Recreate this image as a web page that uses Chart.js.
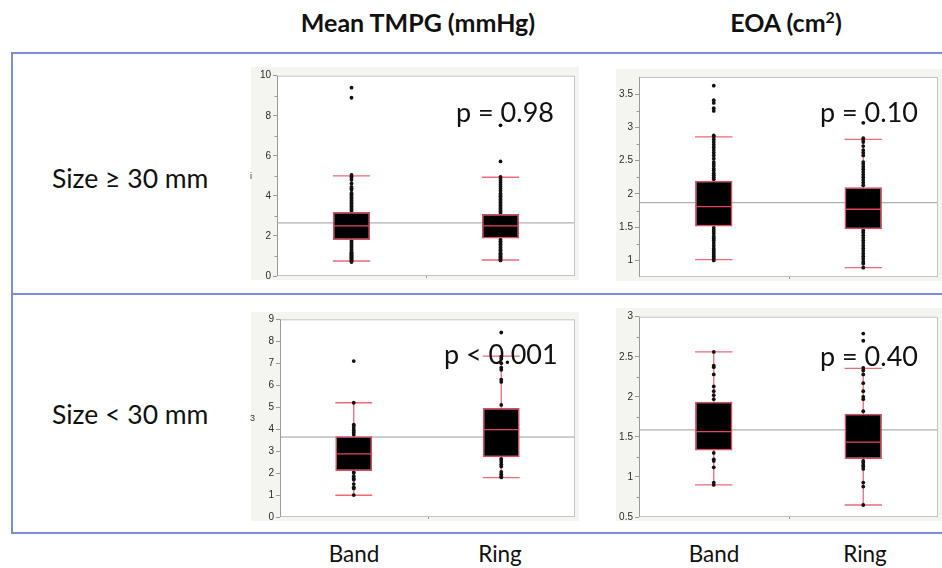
<!DOCTYPE html>
<html><head><meta charset="utf-8">
<script src="https://cdn.jsdelivr.net/npm/chart.js@4.4.1/dist/chart.umd.min.js"></script>
<style>
html,body{margin:0;padding:0;}
body{width:942px;height:568px;background:#fff;position:relative;overflow:hidden;font-family:Lato,"Noto Sans",sans-serif;color:#111;}
.abs{position:absolute;white-space:nowrap;}
.title{font-weight:bold;font-size:25px;text-align:center;width:300px;line-height:1;}
.row{font-size:26.5px;line-height:1;}
.cat{font-size:22.5px;text-align:center;width:100px;line-height:1;}
.pv{font-size:27px;line-height:1;z-index:5;}
.panel{position:absolute;background:#f4f4f0;overflow:hidden;}
.panel canvas{display:block;}
.stray{font-family:"Liberation Sans",Arial,sans-serif;font-size:9px;color:#333;z-index:5;}
</style></head>
<body>
<div class="abs" style="left:11px;top:52px;width:945px;height:478px;border:2px solid #7d8dd5;border-right:none;"></div>
<div class="abs" style="left:11px;top:293px;width:945px;height:2px;background:#7d8dd5;"></div>

<div class="abs title" style="left:268px;top:10px;">Mean TMPG (mmHg)</div>
<div class="abs title" style="left:636px;top:10px;">EOA (cm<sup style="font-size:16px;line-height:0;">2</sup>)</div>

<div class="abs row" style="left:52px;top:165px;">Size ≥ 30 mm</div>
<div class="abs row" style="left:52px;top:401px;">Size &lt; 30 mm</div>

<div class="abs cat" style="left:304px;top:543px;">Band</div>
<div class="abs cat" style="left:450px;top:543px;">Ring</div>
<div class="abs cat" style="left:664px;top:543px;">Band</div>
<div class="abs cat" style="left:815px;top:543px;">Ring</div>

<div class="panel" style="left:251px;top:67px;width:328px;height:213px;"><canvas id="c1" width="328" height="213"></canvas></div>
<div class="panel" style="left:616px;top:69px;width:326px;height:212px;"><canvas id="c2" width="326" height="212"></canvas></div>
<div class="panel" style="left:251px;top:312px;width:328px;height:209px;"><canvas id="c3" width="328" height="209"></canvas></div>
<div class="panel" style="left:616px;top:308px;width:326px;height:213px;"><canvas id="c4" width="326" height="213"></canvas></div>

<div class="abs stray" style="left:250px;top:171px;">i</div>
<div class="abs stray" style="left:250px;top:413px;">3</div>

<div class="abs pv" style="left:456px;top:98px;">p = 0.98</div>
<div class="abs pv" style="left:820px;top:98px;">p = 0.10</div>
<div class="abs pv" style="left:444px;top:340px;">p &lt; 0.001</div>
<div class="abs pv" style="left:820px;top:342px;">p = 0.40</div>

<script>
// ---------- DATA ----------
const categories = ['Band', 'Ring'];

// Mean TMPG, size >= 30 mm
const tmpgLargeLow = [0.75, 0.8];
const tmpgLargeQ1 = [1.8, 1.87];
const tmpgLargeMedian = [2.5, 2.5];
const tmpgLargeQ3 = [3.2, 3.1];
const tmpgLargeHigh = [5.0, 4.93];
const tmpgLargeMean = 2.65;
const tmpgLargeBandPoints = [0.7, 0.74, 0.78, 0.83, 0.88, 0.93, 0.98, 1.03, 1.08, 1.13, 1.18, 1.25, 1.32, 1.4, 1.47, 1.55, 1.62, 1.7, 1.76,
  3.25, 3.32, 3.4, 3.47, 3.55, 3.62, 3.7, 3.77, 3.85, 3.92, 4.0, 4.08, 4.15, 4.3, 4.38, 4.45, 4.62, 4.8, 4.9, 4.97, 5.05, 8.9, 9.4];
const tmpgLargeRingPoints = [0.78, 0.82, 0.87, 0.92, 0.97, 1.02, 1.08, 1.14, 1.2, 1.28, 1.35, 1.42, 1.5, 1.58, 1.66, 1.74, 1.82,
  3.15, 3.22, 3.3, 3.37, 3.45, 3.52, 3.6, 3.67, 3.75, 3.82, 3.9, 3.98, 4.05, 4.12, 4.25, 4.35, 4.45, 4.55, 4.65, 4.75, 4.85, 4.95, 5.72, 7.52];
const tmpgLargeTicks = [0, 2, 4, 6, 8, 10];
const tmpgLargeMinor = [1, 3, 5, 7, 9];

// EOA, size >= 30 mm
const eoaLargeLow = [1.01, 0.89];
const eoaLargeQ1 = [1.51, 1.47];
const eoaLargeMedian = [1.81, 1.77];
const eoaLargeQ3 = [2.2, 2.1];
const eoaLargeHigh = [2.86, 2.82];
const eoaLargeMean = 1.868;
const eoaLargeBandPoints = [1.0, 1.03, 1.06, 1.09, 1.12, 1.15, 1.18, 1.22, 1.26, 1.3, 1.33, 1.36, 1.4, 1.43, 1.46, 1.49,
  2.22, 2.25, 2.28, 2.31, 2.35, 2.38, 2.42, 2.45, 2.48, 2.53, 2.58, 2.62, 2.66, 2.7, 2.74, 2.78, 2.82, 2.86, 2.88,
  3.25, 3.29, 3.37, 3.41, 3.63];
const eoaLargeRingPoints = [0.89, 0.95, 0.98, 1.02, 1.06, 1.1, 1.14, 1.18, 1.22, 1.26, 1.3, 1.34, 1.38, 1.42, 1.45,
  2.13, 2.17, 2.21, 2.25, 2.29, 2.33, 2.37, 2.41, 2.45, 2.48, 2.58, 2.62, 2.66, 2.72, 2.78, 2.81, 2.84, 3.07];
const eoaLargeTicks = [1, 1.5, 2, 2.5, 3, 3.5];
const eoaLargeMinor = [1.25, 1.75, 2.25, 2.75, 3.25];

// Mean TMPG, size < 30 mm
const tmpgSmallLow = [0.99, 1.79];
const tmpgSmallQ1 = [2.09, 2.72];
const tmpgSmallMedian = [2.87, 3.98];
const tmpgSmallQ3 = [3.68, 4.96];
const tmpgSmallHigh = [5.2, 7.32];
const tmpgSmallMean = 3.64;
const tmpgSmallBandPoints = [1.0, 1.3, 1.35, 1.5, 1.7, 1.75, 1.85, 2.0, 2.05, 3.75, 3.85, 3.95, 4.05, 4.15, 4.2, 5.2, 7.1];
const tmpgSmallRingPoints = [1.8, 1.85, 1.95, 2.05, 2.3, 2.4, 2.5, 2.6, 2.65, 5.1, 6.15, 6.25, 6.7, 6.8, 7.0, 7.2, 7.3, 8.4];
const tmpgSmallTicks = [0, 1, 2, 3, 4, 5, 6, 7, 8, 9];
const tmpgSmallMinor = [];

// EOA, size < 30 mm
const eoaSmallLow = [0.9, 0.65];
const eoaSmallQ1 = [1.33, 1.223];
const eoaSmallMedian = [1.566, 1.434];
const eoaSmallQ3 = [1.94, 1.79];
const eoaSmallHigh = [2.56, 2.355];
const eoaSmallMean = 1.587;
const eoaSmallBandPoints = [0.9, 0.93, 1.12, 1.2, 1.22, 1.3, 1.97, 2.02, 2.07, 2.13, 2.28, 2.37, 2.39, 2.56];
const eoaSmallRingPoints = [0.65, 0.88, 0.93, 1.1, 1.13, 1.15, 1.18, 1.2, 1.82, 1.97, 2.0, 2.07, 2.17, 2.28, 2.33, 2.36, 2.7, 2.79];
const eoaSmallTicks = [0.5, 1, 1.5, 2, 2.5, 3];
const eoaSmallMinor = [0.75, 1.25, 1.75, 2.25, 2.75];

// ---------- DRAWING ----------
const BOX_RED = '#e4475b';
const WHISK_RED = '#ee6a78';

const boxPlugin = {
  id: 'boxplot',
  beforeDraw(chart) {
    const { ctx, chartArea: a } = chart;
    ctx.save();
    ctx.fillStyle = '#ffffff';
    ctx.fillRect(a.left, a.top, a.right - a.left, a.bottom - a.top);
    ctx.restore();
  },
  beforeDatasetsDraw(chart, args, o) {
    const { ctx, chartArea: a } = chart;
    const xs = chart.scales.x, ys = chart.scales.y;
    const meta = chart.getDatasetMeta(0);
    ctx.save();
    const ym = ys.getPixelForValue(o.mean);
    ctx.strokeStyle = '#9c9c9c';
    ctx.lineWidth = 1;
    ctx.beginPath(); ctx.moveTo(a.left, ym); ctx.lineTo(a.right, ym); ctx.stroke();
    ctx.strokeStyle = WHISK_RED;
    ctx.lineWidth = 1.3;
    categories.forEach((c, i) => {
      const cx = xs.getPixelForValue(i);
      const half = meta.data[i].width / 2;
      const yl = ys.getPixelForValue(o.low[i]);
      const yh = ys.getPixelForValue(o.high[i]);
      ctx.beginPath();
      ctx.moveTo(cx, yl); ctx.lineTo(cx, yh);
      ctx.moveTo(cx - half, yl); ctx.lineTo(cx + half, yl);
      ctx.moveTo(cx - half, yh); ctx.lineTo(cx + half, yh);
      ctx.stroke();
    });
    ctx.restore();
  },
  afterDatasetsDraw(chart, args, o) {
    const { ctx, chartArea: a } = chart;
    const xs = chart.scales.x, ys = chart.scales.y;
    const meta = chart.getDatasetMeta(0);
    ctx.save();
    ctx.strokeStyle = BOX_RED;
    ctx.lineWidth = 1.3;
    categories.forEach((c, i) => {
      const cx = xs.getPixelForValue(i);
      const half = meta.data[i].width / 2;
      const y = ys.getPixelForValue(o.median[i]);
      ctx.beginPath(); ctx.moveTo(cx - half + 1, y); ctx.lineTo(cx + half - 1, y); ctx.stroke();
    });
    ctx.strokeStyle = '#c4c4c4';
    ctx.lineWidth = 1;
    ctx.strokeRect(a.left + 0.5, a.top + 0.5, a.right - a.left - 1, a.bottom - a.top - 1);
    ctx.strokeStyle = '#9a9a9a';
    ctx.beginPath(); ctx.moveTo(a.left + 0.5, a.top); ctx.lineTo(a.left + 0.5, a.bottom); ctx.stroke();
    o.minor.forEach(v => {
      const y = Math.round(ys.getPixelForValue(v)) + 0.5;
      ctx.beginPath(); ctx.moveTo(a.left - 2.5, y); ctx.lineTo(a.left, y); ctx.stroke();
    });
    const mid = (a.left + a.right) / 2;
    ctx.beginPath(); ctx.moveTo(Math.round(mid) + 0.5, a.bottom); ctx.lineTo(Math.round(mid) + 0.5, a.bottom + 2); ctx.stroke();
    ctx.restore();
  }
};

function makePanel(id, d) {
  const boxData = categories.map((c, i) => [d.q1[i], d.q3[i]]);
  const pts = [];
  d.band.forEach(v => pts.push({ x: 'Band', y: v }));
  d.ring.forEach(v => pts.push({ x: 'Ring', y: v }));
  new Chart(document.getElementById(id), {
    data: {
      labels: categories,
      datasets: [
        {
          type: 'bar', data: boxData, backgroundColor: '#000000', borderColor: BOX_RED,
          borderWidth: 1.5, borderSkipped: false, barPercentage: 0.25, categoryPercentage: 1, order: 0
        },
        {
          type: 'scatter', data: pts, pointRadius: 1.9, pointBackgroundColor: '#151010',
          pointBorderWidth: 0, pointBorderColor: '#151010', order: 1
        }
      ]
    },
    options: {
      responsive: false, animation: false, events: [],
      layout: { padding: { top: d.padTop, right: d.padRight, left: 0, bottom: 0 } },
      plugins: {
        legend: { display: false }, tooltip: { enabled: false },
        boxplot: { low: d.low, high: d.high, median: d.median, mean: d.mean, minor: d.minor }
      },
      scales: {
        x: {
          type: 'category', offset: true,
          ticks: { display: false },
          grid: { display: false },
          border: { display: false },
          afterFit(s) { s.height = d.xH; }
        },
        y: {
          type: 'linear', min: d.min, max: d.max,
          afterBuildTicks(s) { s.ticks = d.ticks.map(v => ({ value: v })); },
          ticks: {
            font: { family: 'Liberation Sans', size: 10 }, color: '#2a2a2a', padding: 2,
            callback: v => String(v)
          },
          grid: { drawOnChartArea: false, tickLength: 4, color: '#9a9a9a', tickWidth: 1 },
          border: { display: false },
          afterFit(s) { s.width = d.yW; s.paddingTop = 0; s.paddingBottom = 0; }
        }
      }
    },
    plugins: [boxPlugin]
  });
}

makePanel('c1', { q1: tmpgLargeQ1, q3: tmpgLargeQ3, median: tmpgLargeMedian, low: tmpgLargeLow, high: tmpgLargeHigh,
  mean: tmpgLargeMean, band: tmpgLargeBandPoints, ring: tmpgLargeRingPoints, ticks: tmpgLargeTicks, minor: tmpgLargeMinor,
  min: 0, max: 10, yW: 26, padTop: 8.7, padRight: 1, xH: 3 });
makePanel('c2', { q1: eoaLargeQ1, q3: eoaLargeQ3, median: eoaLargeMedian, low: eoaLargeLow, high: eoaLargeHigh,
  mean: eoaLargeMean, band: eoaLargeBandPoints, ring: eoaLargeRingPoints, ticks: eoaLargeTicks, minor: eoaLargeMinor,
  min: 0.75, max: 3.76, yW: 23, padTop: 8, padRight: 3, xH: 3 });
makePanel('c3', { q1: tmpgSmallQ1, q3: tmpgSmallQ3, median: tmpgSmallMedian, low: tmpgSmallLow, high: tmpgSmallHigh,
  mean: tmpgSmallMean, band: tmpgSmallBandPoints, ring: tmpgSmallRingPoints, ticks: tmpgSmallTicks, minor: tmpgSmallMinor,
  min: 0, max: 9, yW: 29, padTop: 7.3, padRight: 1, xH: 2 });
makePanel('c4', { q1: eoaSmallQ1, q3: eoaSmallQ3, median: eoaSmallMedian, low: eoaSmallLow, high: eoaSmallHigh,
  mean: eoaSmallMean, band: eoaSmallBandPoints, ring: eoaSmallRingPoints, ticks: eoaSmallTicks, minor: eoaSmallMinor,
  min: 0.5, max: 3, yW: 23, padTop: 8.7, padRight: 3, xH: 2.7 });
</script>
</body></html>
